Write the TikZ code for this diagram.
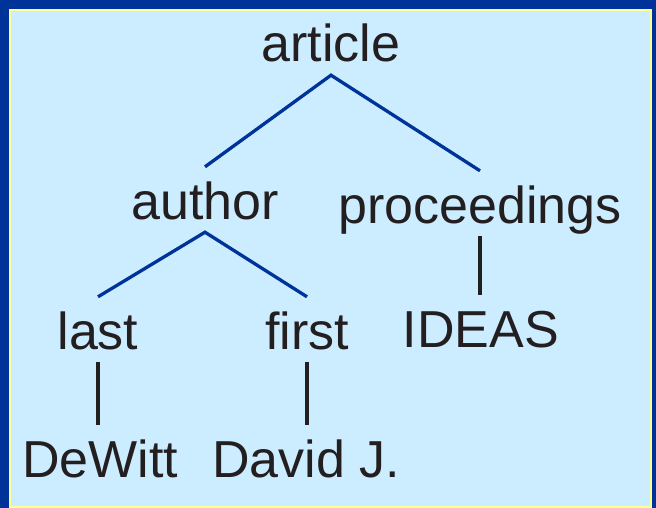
\documentclass[tikz,border=0pt]{standalone}
\usepackage{fontspec}
\setmainfont{Liberation Sans}
\usetikzlibrary{positioning}
\definecolor{slideblue}{HTML}{003399}
\definecolor{slidebg}{HTML}{CCECFF}
\definecolor{slideyellow}{HTML}{FFFF99}
\definecolor{inkgray}{HTML}{231F20}

\begin{document}
\begin{tikzpicture}[x=1pt,y=-1pt,
      word/.style={anchor=base,inner xsep=0pt,inner ysep=13pt,text height=39pt,text depth=0pt,
        text=inkgray,font=\fontsize{52}{60}\selectfont},
      branch/.style={line width=3.3pt,draw=slideblue},
      leaf/.style={line width=3.3pt,draw=inkgray}]
    \useasboundingbox (0,0) rectangle (656,508);
    \fill[slideblue] (0,0) rectangle (656,508);
    \filldraw[fill=slidebg,draw=slideyellow,line width=2pt] (10,10) rectangle (651,507);
    \node[word] (article) at (331,62) {article};
    \node[word] (author) at (205,219) {author};
    \node[word] (proc) at (480,223) {proceedings};
    \node[word] (last) at (98,349) {last};
    \node[word] (first) at (307,349) {first};
    \node[word] (ideas) at (481,347) {IDEAS};
    \node[word] (dewitt) at (100,477) {DeWitt};
    \node[word] (david) at (306,477) {David J.};
    \draw[branch] (author.north) -- (article.south) -- (proc.north);
    \draw[branch] (last.north) -- (author.south) -- (first.north);
    \draw[leaf] (proc.south) -- (proc.south |- ideas.north);
    \draw[leaf] (last.south) -- (last.south |- dewitt.north);
    \draw[leaf] (first.south) -- (first.south |- david.north);
  \end{tikzpicture}
\end{document}
